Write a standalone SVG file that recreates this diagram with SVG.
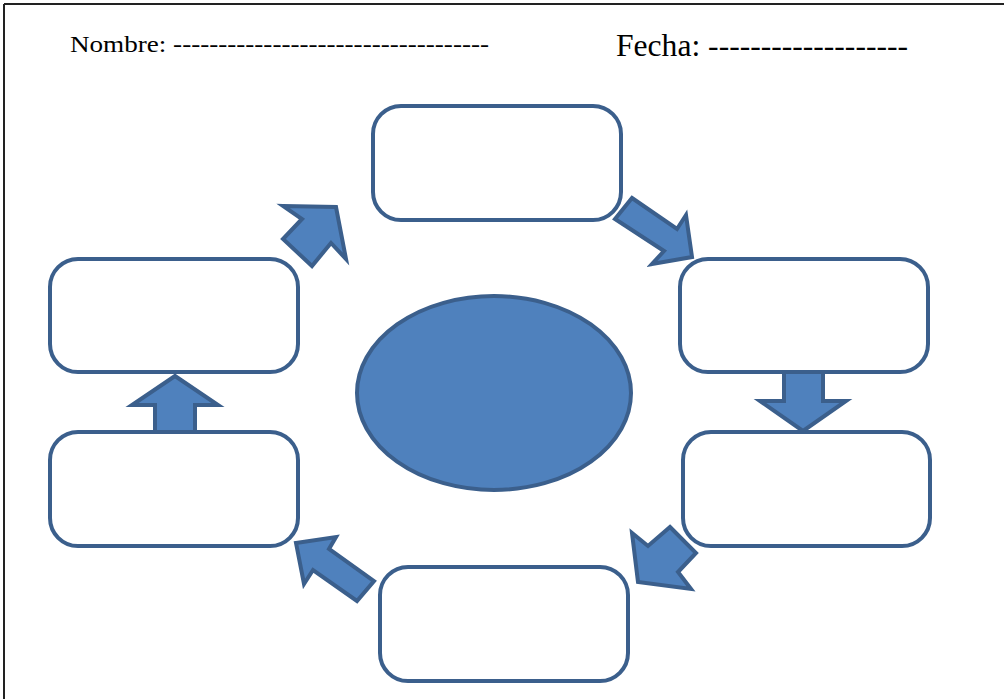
<svg xmlns="http://www.w3.org/2000/svg" width="1004" height="699" viewBox="0 0 1004 699">
<style>
.box{fill:#ffffff;stroke:#3b5f8c;stroke-width:4}
.arrow{fill:#4f81bd;stroke:#3b5f8c;stroke-width:4;stroke-linejoin:miter}
.hdr{font-family:"Liberation Serif","Times New Roman",serif;fill:#000}
</style>
<rect width="1004" height="699" fill="#ffffff"/>
<g id="border" fill="none" stroke="#222" stroke-width="2">
<line x1="4" y1="4" x2="1004" y2="4"/>
<line x1="4" y1="4" x2="4" y2="699"/>
</g>
<g id="header">
<text class="hdr" x="70" y="52" font-size="23" textLength="419" lengthAdjust="spacingAndGlyphs">Nombre: -----------------------------------</text>
<text class="hdr" x="616" y="56" font-size="31" textLength="292" lengthAdjust="spacingAndGlyphs">Fecha: -------------------</text>
</g>
<g id="center">
<ellipse cx="494" cy="393" rx="137" ry="97" fill="#4f81bd" stroke="#3b5f8c" stroke-width="4"/>
</g>
<g id="box-top"><rect class="box" x="373" y="106" width="248" height="114" rx="28"/></g>
<g id="box-right-upper"><rect class="box" x="680" y="259" width="248" height="113" rx="28"/></g>
<g id="box-right-lower"><rect class="box" x="683" y="432" width="247" height="114" rx="28"/></g>
<g id="box-bottom"><rect class="box" x="380" y="567" width="248" height="114" rx="28"/></g>
<g id="box-left-lower"><rect class="box" x="50" y="432" width="248" height="114" rx="28"/></g>
<g id="box-left-upper"><rect class="box" x="50" y="259" width="248" height="113" rx="28"/></g>
<g id="connectors">
<polygon class="arrow" points="283,206 336,207 346,259 331,243 312,266 283,239 302,219"/>
<polygon class="arrow" points="632,198 677,229 686,215 692,257 652,264 664,251 615,219"/>
<polygon class="arrow" points="784,372 823,372 823,401 846,401 803,431 760,401 784,401"/>
<polygon class="arrow" points="670,527 696,553 678,572 691,589 638,582 632,533 648,546"/>
<polygon class="arrow" points="296,543 336,537 329,549 374,581 357,601 313,570 304,584"/>
<polygon class="arrow" points="175,376 218,405 195,405 195,432 155,432 155,405 132,405"/>
</g>
</svg>
